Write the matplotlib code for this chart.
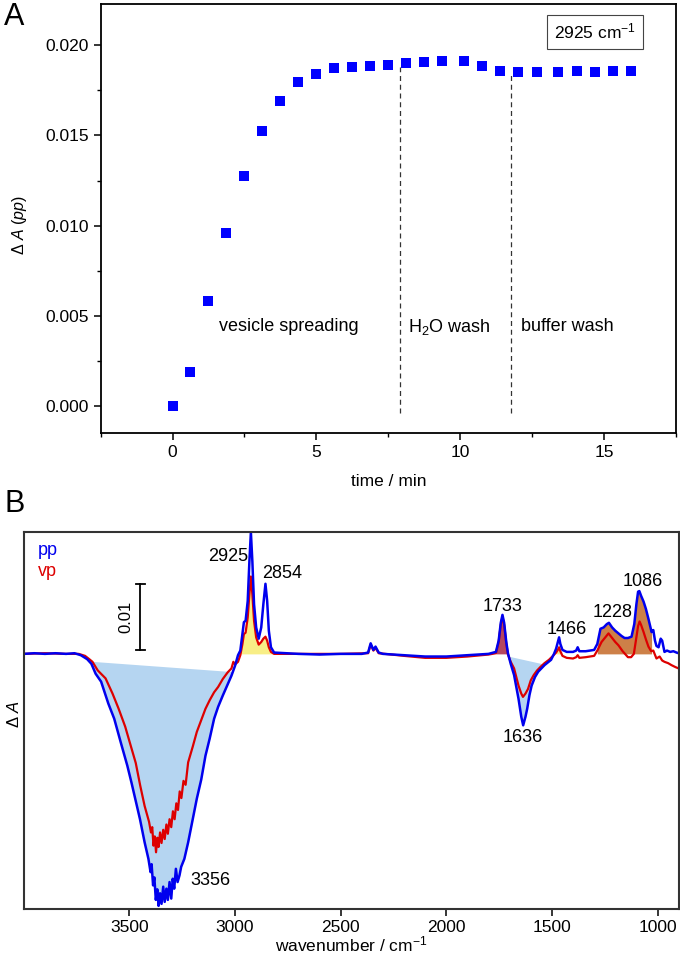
import numpy as np
import matplotlib
matplotlib.use('Agg')
import matplotlib.pyplot as plt

plt.rcParams['font.family'] = ['Liberation Sans', 'DejaVu Sans']
plt.rcParams['font.size'] = 12.5
plt.rcParams['mathtext.fontset'] = 'custom'
plt.rcParams['mathtext.rm'] = 'Liberation Sans'
plt.rcParams['mathtext.it'] = 'Liberation Sans:italic'

# ---- panel A: 2925 cm-1 band vs time ----
time_min = [0.0, 0.62, 1.24, 1.86, 2.49, 3.11, 3.75, 4.37, 5.0, 5.62, 6.24, 6.87,
            7.49, 8.13, 8.75, 9.38, 10.14, 10.76, 11.39, 12.02, 12.66, 13.4,
            14.05, 14.67, 15.3, 15.94]
dA_2925 = [0.0, 0.0019, 0.0058, 0.0096, 0.01274, 0.01524, 0.01693, 0.01794,
           0.01843, 0.01874, 0.0188, 0.01885, 0.01893, 0.0190, 0.01907, 0.01913,
           0.01913, 0.01883, 0.01857, 0.01852, 0.01852, 0.01854, 0.01856,
           0.01854, 0.01856, 0.01859]
wash_times = [7.92, 11.78]
wash_tops = [0.0188, 0.0185]
phase_labels = ['vesicle spreading', 'H$_2$O wash', 'buffer wash']
phase_x = [1.6, 8.2, 12.1]

# ---- panel B: spectra (pp and vp) ----
wn_pp = [4000, 3950, 3900, 3850, 3800, 3760, 3730, 3700, 3680, 3660, 3634, 3600,
         3572, 3540, 3510, 3490, 3469, 3450, 3428, 3410, 3400, 3395, 3388, 3382,
         3375, 3368, 3362, 3355, 3348, 3340, 3333, 3325, 3318, 3310, 3302, 3295,
         3288, 3280, 3272, 3263, 3255, 3240, 3222, 3200, 3181, 3160, 3140, 3120,
         3099, 3080, 3058, 3040, 3017, 3000, 2986, 2975, 2965, 2958, 2950, 2940,
         2932, 2925, 2918, 2910, 2900, 2888, 2876, 2866, 2856, 2848, 2840, 2830,
         2815, 2700, 2600, 2500, 2400, 2370, 2358, 2345, 2335, 2320, 2300, 2200,
         2100, 2000, 1900, 1800, 1765, 1752, 1742, 1734, 1726, 1716, 1708, 1695,
         1679, 1658, 1645, 1636, 1625, 1617, 1606, 1596, 1580, 1565, 1535, 1504,
         1490, 1480, 1472, 1466, 1460, 1450, 1430, 1400, 1385, 1378, 1370, 1340,
         1300, 1285, 1270, 1255, 1240, 1230, 1215, 1200, 1185, 1170, 1156, 1140,
         1123, 1110, 1100, 1092, 1086, 1078, 1066, 1055, 1043, 1035, 1028, 1020,
         1012, 1005, 995, 985, 978, 967, 955, 940, 925, 910, 900]
dA_pp = [0.0, 0.0001, 0.0, 0.0001, 0.0, 0.0001, -0.0002, -0.0008, -0.0015, -0.0030,
         -0.0042, -0.0075, -0.0098, -0.0135, -0.0169, -0.0195, -0.0224, -0.0250,
         -0.0285, -0.0310, -0.0330, -0.0318, -0.0350, -0.0338, -0.0372, -0.0356,
         -0.0381, -0.0362, -0.0378, -0.0352, -0.0375, -0.0355, -0.0372, -0.0345,
         -0.0370, -0.0340, -0.0355, -0.0325, -0.0345, -0.0335, -0.0322, -0.0310,
         -0.0285, -0.0250, -0.0219, -0.0190, -0.0154, -0.0128, -0.0098, -0.0080,
         -0.0063, -0.0050, -0.0033, -0.0018, -0.0002, 0.0005, 0.0030, 0.0048,
         0.0050, 0.0080, 0.0140, 0.0184, 0.0140, 0.0075, 0.0040, 0.0023, 0.0040,
         0.0075, 0.0106, 0.0080, 0.0035, 0.0010, 0.0002, 0.0, -0.0001, 0.0, 0.0,
         0.0002, 0.0016, 0.0006, 0.0011, 0.0002, 0.0, -0.0002, -0.0004, -0.0004,
         -0.0002, 0.0, 0.0003, 0.0020, 0.0047, 0.0059, 0.0047, 0.0018, 0.0001,
         -0.0015, -0.0032, -0.0068, -0.0095, -0.0108, -0.0095, -0.0083, -0.0062,
         -0.0048, -0.0035, -0.0027, -0.0017, -0.0009, 0.0, 0.0008, 0.0018, 0.0025,
         0.0015, 0.0006, 0.0003, 0.0003, 0.0005, 0.0010, 0.0004, 0.0004, 0.0006,
         0.0015, 0.0038, 0.0040, 0.0045, 0.0047, 0.0040, 0.0035, 0.0031, 0.0027,
         0.0024, 0.0024, 0.0026, 0.0045, 0.0075, 0.0094, 0.0095, 0.0088, 0.0079,
         0.0068, 0.0053, 0.0042, 0.0033, 0.0036, 0.0020, 0.0012, 0.0010, 0.0023,
         0.0020, 0.0003, 0.0005, 0.0003, 0.0004, 0.0002, 0.0001]

wn_vp = [4000, 3900, 3800, 3740, 3710, 3690, 3675, 3650, 3613, 3580, 3551, 3520,
         3490, 3470, 3449, 3428, 3407, 3398, 3392, 3386, 3380, 3374, 3368, 3362,
         3355, 3348, 3340, 3333, 3325, 3318, 3310, 3302, 3294, 3286, 3278, 3270,
         3262, 3254, 3244, 3234, 3222, 3200, 3181, 3160, 3140, 3120, 3099, 3080,
         3058, 3035, 3017, 3008, 3000, 2986, 2975, 2965, 2958, 2950, 2940, 2932,
         2925, 2918, 2910, 2900, 2888, 2876, 2866, 2856, 2848, 2840, 2830, 2815,
         2700, 2500, 2370, 2358, 2345, 2335, 2320, 2200, 2100, 2000, 1900, 1800,
         1765, 1752, 1742, 1734, 1726, 1716, 1708, 1695, 1679, 1658, 1645, 1637,
         1625, 1613, 1600, 1586, 1570, 1555, 1535, 1514, 1495, 1480, 1472, 1466,
         1460, 1450, 1430, 1400, 1385, 1378, 1370, 1340, 1300, 1285, 1265, 1250,
         1232, 1215, 1200, 1185, 1165, 1140, 1125, 1112, 1100, 1092, 1085, 1078,
         1066, 1055, 1043, 1030, 1020, 1005, 990, 978, 967, 950, 934, 915, 900]
dA_vp = [0.0, 0.0001, 0.0, 0.0, -0.0003, -0.0008, -0.0012, -0.0025, -0.0037,
         -0.0060, -0.0083, -0.0110, -0.0143, -0.0165, -0.0199, -0.0230, -0.0254,
         -0.0270, -0.0262, -0.0290, -0.0276, -0.0300, -0.0278, -0.0292, -0.0270,
         -0.0286, -0.0266, -0.0280, -0.0258, -0.0272, -0.0250, -0.0262, -0.0238,
         -0.0250, -0.0226, -0.0236, -0.0208, -0.0218, -0.0192, -0.0198, -0.0164,
         -0.0140, -0.0118, -0.0100, -0.0083, -0.0070, -0.0058, -0.0050, -0.0038,
         -0.0028, -0.0022, -0.0012, -0.0016, -0.0012, -0.0002, 0.0015, 0.0030,
         0.0032, 0.0055, 0.0090, 0.0117, 0.0090, 0.0050, 0.0025, 0.0014, 0.0018,
         0.0023, 0.0026, 0.0020, 0.0010, 0.0003, 0.0, 0.0, 0.0, 0.0001, 0.0014,
         0.0005, 0.0009, 0.0001, -0.0003, -0.0006, -0.0006, -0.0004, -0.0001,
         0.0001, 0.0018, 0.0044, 0.0056, 0.0044, 0.0016, -0.0001, -0.0012, -0.0022,
         -0.0048, -0.0060, -0.0065, -0.0060, -0.0053, -0.0040, -0.0032, -0.0025,
         -0.0020, -0.0014, -0.0009, -0.0003, 0.0002, 0.0006, 0.0010, 0.0004,
         -0.0003, -0.0006, -0.0007, -0.0005, -0.0002, -0.0006, -0.0005, -0.0003,
         0.0005, 0.0018, 0.0024, 0.0031, 0.0024, 0.0018, 0.0013, 0.0004, -0.0005,
         -0.0005, 0.0, 0.0025, 0.0042, 0.0049, 0.0044, 0.0033, 0.0022, 0.0011,
         0.0004, 0.0005, -0.0007, -0.0004, -0.0010, -0.0012, -0.0014, -0.0017,
         -0.0020, -0.0022]

peak_labels = ['3356', '2925', '2854', '1733', '1636', '1466', '1228', '1086']
peak_x = [3117, 2937, 2775, 1734, 1639, 1431, 1213, 1071]
peak_y = [-0.0342, 0.0148, 0.0122, 0.0072, -0.0126, 0.0037, 0.0062, 0.0110]
peak_ha = ['center', 'right', 'center', 'center', 'center', 'center', 'center', 'center']

fig = plt.figure(figsize=(6.8, 9.56), dpi=100)

# ---------------- panel A ----------------
ax = fig.add_axes([0.148, 0.547, 0.846, 0.449])
ax.plot(time_min, dA_2925, 's', color='#0000ff', markersize=7, markeredgewidth=0)
for t, top in zip(wash_times, wash_tops):
    ax.plot([t, t], [-0.0004, top], color='#333333', lw=0.9, ls=(0, (4, 3)))
for lab, x in zip(phase_labels, phase_x):
    ax.text(x, 0.0044, lab, fontsize=13, va='center')
ax.text(0.86, 0.935, '2925 cm$^{-1}$', transform=ax.transAxes, ha='center', va='center',
        fontsize=12.5,
        bbox=dict(boxstyle='square,pad=0.4', fc='white', ec='#444444', lw=0.8))
ax.set_xlim(-2.5, 17.5)
ax.set_ylim(-0.0015, 0.0223)
ax.set_xticks([0, 5, 10, 15])
ax.set_xticks([-2.5, 2.5, 7.5, 12.5, 17.5], minor=True)
ax.set_yticks([0.0, 0.005, 0.010, 0.015, 0.020])
ax.set_yticks([0.0025, 0.0075, 0.0125, 0.0175], minor=True)
ax.yaxis.set_major_formatter(matplotlib.ticker.FormatStrFormatter('%.3f'))
ax.tick_params(which='major', direction='out', length=5, width=1.1, labelsize=12.5)
ax.tick_params(which='minor', direction='out', length=3, width=1.0)
for s in ax.spines.values():
    s.set_linewidth(1.3)
ax.set_xlabel('time / min', fontsize=12.5, labelpad=10)
fig.text(0.028, 0.765, r'$\Delta$ $A$ ($pp$)', rotation=90, ha='center', va='center', fontsize=11.5)
fig.text(0.006, 0.982, 'A', fontsize=22, ha='left', va='center')

# ---------------- panel B ----------------
bx = fig.add_axes([0.035, 0.049, 0.963, 0.395])
wp = np.array(wn_pp)
yp = np.array(dA_pp)
wv = np.array(wn_vp)
yv = np.array(dA_vp)

light_blue = '#b5d5f1'
# OH stretch band, straight baseline between its edges
m = (wp <= 3690) & (wp >= 3005)
base = -0.0011 + (wp[m] - 3690) * (-0.0027 + 0.0011) / (3005 - 3690)
bx.fill_between(wp[m], base, yp[m], where=yp[m] <= base, color=light_blue, lw=0, interpolate=True)
# water bending band
m = (wp <= 1712) & (wp >= 1530)
base = -0.0003 + (wp[m] - 1712) * (-0.0016 + 0.0003) / (1530 - 1712)
bx.fill_between(wp[m], base, yp[m], where=yp[m] <= base, color=light_blue, lw=0, interpolate=True)
# CH stretch
m = (wv <= 2975) & (wv >= 2815)
bx.fill_between(wv[m], 0, yv[m], where=yv[m] >= 0, color='#f8ee86', lw=0, interpolate=True)
m = (wv <= 1485) & (wv >= 1452)
bx.fill_between(wv[m], 0, yv[m], where=yv[m] >= 0, color='#f8ee86', lw=0, interpolate=True)
# ester C=O
m = (wp <= 1766) & (wp >= 1706)
bx.fill_between(wp[m], 0, yp[m], where=yp[m] >= 0, color='#b5475f', lw=0, interpolate=True)
# phosphate
m = (wp <= 1290) & (wp >= 1028)
bx.fill_between(wp[m], 0, yp[m], color='#cd8048', lw=0)

bx.plot(wv, yv, color='#dd0000', lw=1.6)
bx.plot(wp, yp, color='#0000ee', lw=1.8)

for lab, x, y, ha in zip(peak_labels, peak_x, peak_y, peak_ha):
    bx.text(x, y, lab, fontsize=13, ha=ha, va='center')

bx.text(3935, 0.0156, 'pp', color='#0000ee', fontsize=13, va='center')
bx.text(3935, 0.0125, 'vp', color='#dd0000', fontsize=13, va='center')

# 0.01 scale bar
bx.plot([3448, 3448], [0.0006, 0.0106], color='black', lw=1.3)
bx.plot([3470, 3426], [0.0106, 0.0106], color='black', lw=1.3)
bx.plot([3470, 3426], [0.0006, 0.0006], color='black', lw=1.3)
bx.text(3515, 0.0056, '0.01', rotation=90, ha='center', va='center', fontsize=12)

bx.set_xlim(4000, 900)
bx.set_ylim(-0.0386, 0.0185)
bx.set_xticks([3500, 3000, 2500, 2000, 1500, 1000])
bx.set_yticks([])
bx.tick_params(direction='out', length=5, width=1.1, labelsize=12.5, pad=2.5)
for s in bx.spines.values():
    s.set_linewidth(1.5)
    s.set_color('#333333')
bx.set_xlabel('wavenumber / cm$^{-1}$', fontsize=12.5, labelpad=0)
fig.text(0.02, 0.253, r'$\Delta$ $A$', rotation=90, ha='center', va='center', fontsize=12)
fig.text(0.006, 0.473, 'B', fontsize=22, ha='left', va='center')

fig.savefig('out.png', dpi=100)
